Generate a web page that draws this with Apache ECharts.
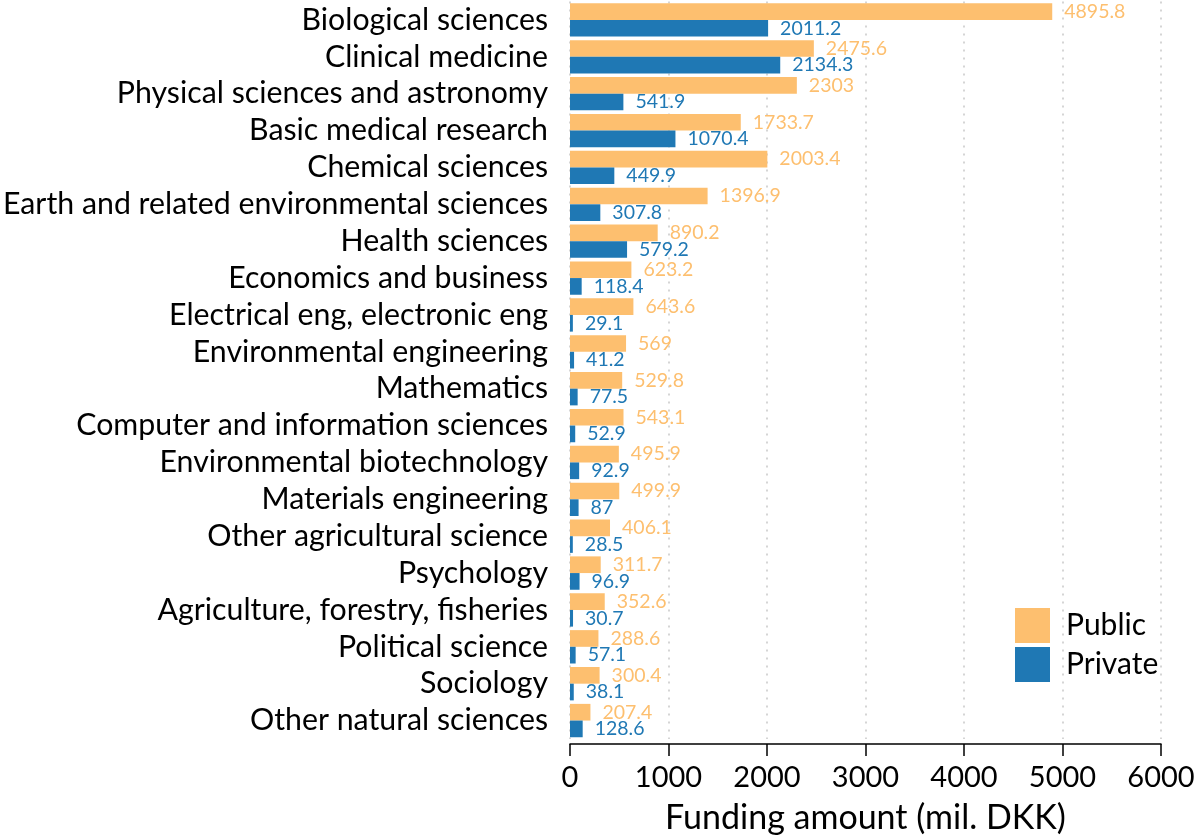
<!DOCTYPE html>
<html>
<head>
<meta charset="utf-8">
<script src="https://cdn.jsdelivr.net/npm/echarts@6/dist/echarts.min.js"></script>
<style>html,body{margin:0;padding:0;background:#fff;}#c{width:1200px;height:840px;}</style>
</head>
<body>
<div id="c"></div>
<script>
const categories = ["Biological sciences","Clinical medicine","Physical sciences and astronomy","Basic medical research","Chemical sciences","Earth and related environmental sciences","Health sciences","Economics and business","Electrical eng, electronic eng","Environmental engineering","Mathematics","Computer and information sciences","Environmental biotechnology","Materials engineering","Other agricultural science","Psychology","Agriculture, forestry, fisheries","Political science","Sociology","Other natural sciences"];
const publicValues = [4895.8,2475.6,2303,1733.7,2003.4,1396.9,890.2,623.2,643.6,569,529.8,543.1,495.9,499.9,406.1,311.7,352.6,288.6,300.4,207.4];
const privateValues = [2011.2,2134.3,541.9,1070.4,449.9,307.8,579.2,118.4,29.1,41.2,77.5,52.9,92.9,87,28.5,96.9,30.7,57.1,38.1,128.6];
const xTicks = [0,1000,2000,3000,4000,5000,6000];
const seriesNames = ["Public","Private"];

const FONT = 'Lato';
const chart = echarts.init(document.getElementById('c'), null, {renderer:'canvas'});
const labelCfg = (color) => ({show:true, position:'right', distance:12, color:color, fontFamily:FONT, fontSize:19.5,
  formatter: p => String(p.value)});
chart.setOption({
  animation:false,
  backgroundColor:'#fff',
  grid:{left:570, right:39, top:1.5, height:737.5, containLabel:false},
  legend:{
    data:seriesNames, orient:'vertical', left:1010, top:603,
    itemWidth:35, itemHeight:35, itemGap:4, icon:'rect',
    textStyle:{fontFamily:FONT, fontSize:30, color:'#000', padding:[0,0,0,11]}
  },
  xAxis:{
    type:'value', min:xTicks[0], max:xTicks[xTicks.length-1], interval:1000,
    offset:5,
    name:'Funding amount (mil. DKK)', nameLocation:'middle', nameGap:57,
    nameTextStyle:{fontFamily:FONT, fontSize:34, color:'#000'},
    axisLine:{show:true, lineStyle:{color:'#000', width:1.5}},
    axisTick:{show:true, length:12, lineStyle:{color:'#000', width:1.5}},
    axisLabel:{fontFamily:FONT, fontSize:29, color:'#000', margin:19, formatter: v => String(v)},
    splitLine:{show:true, lineStyle:{color:'#c8c8c8', type:[2,6], width:1.5}}
  },
  yAxis:{
    type:'category', data:categories, inverse:true,
    axisLine:{show:false}, axisTick:{show:false},
    axisLabel:{fontFamily:FONT, fontSize:30.3, color:'#000', margin:22, interval:0, hideOverlap:false}
  },
  series:[
    {name:seriesNames[0], type:'bar', data:publicValues, barGap:'0%', barCategoryGap:'9.5%',
     itemStyle:{color:'#fdbf6f'}, label:labelCfg('#fdbf6f')},
    {name:seriesNames[1], type:'bar', data:privateValues, barGap:'0%', barCategoryGap:'9.5%',
     itemStyle:{color:'#1f78b4'}, label:labelCfg('#1f78b4')}
  ]
});
</script>
</body>
</html>
